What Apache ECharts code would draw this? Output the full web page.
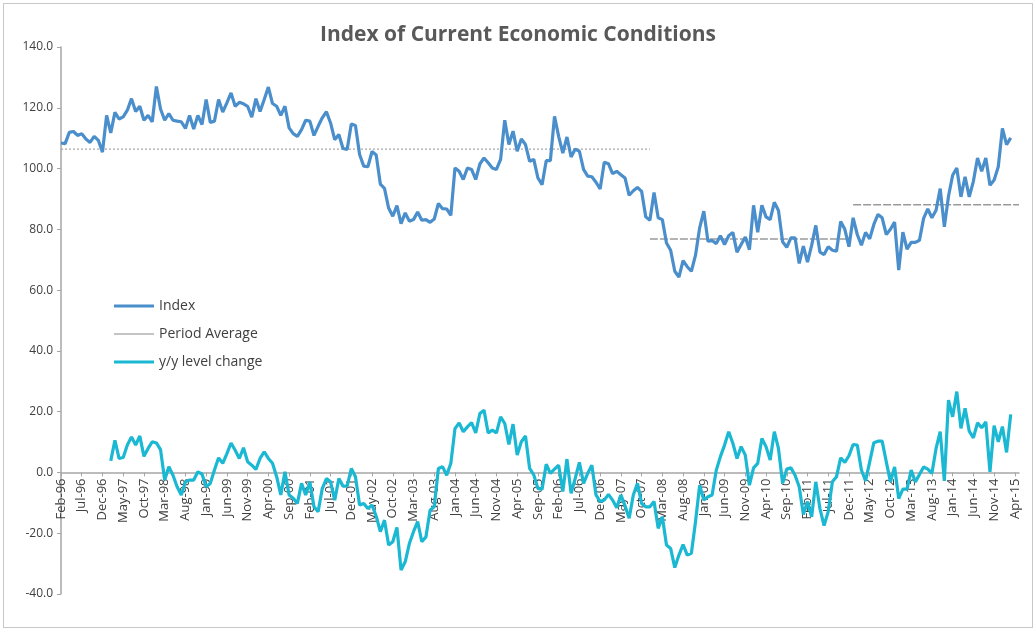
<!DOCTYPE html>
<html lang="en">
<head>
    <meta charset="UTF-8">
    <title>Index of Current Economic Conditions</title>
    <script src="https://cdn.jsdelivr.net/npm/echarts@6/dist/echarts.min.js"></script>
    <style>
        html,body{height:100%;width:100%;margin:0;padding:0;background:#fff;}
        #main{position:absolute;left:3px;top:3px;right:3px;bottom:3px;border:1px solid #c8c8c8;}
    </style>
</head>
<body>
    <div id="main"></div>
    <script>
        // monthly labels Feb-96 .. Apr-15
        var monNames = ['Jan','Feb','Mar','Apr','May','Jun','Jul','Aug','Sep','Oct','Nov','Dec'];
        var months = [];
        for (var k = 1; k <= 232; k++) {
            var yy = 1996 + Math.floor(k / 12), mm = k % 12;
            months.push(monNames[mm] + '-' + String(yy).slice(2));
        }

        var indexValues = [
            108.4,108.2,111.9,112.2,110.9,111.5,109.7,108.6,110.6,109.3,105.4,117.5,
            111.7,118.5,116.3,117.0,119.2,123.0,118.8,120.5,115.9,117.5,115.4,127.0,
            119.6,115.9,118.1,115.9,115.6,115.4,113.2,117.5,113.0,117.5,114.5,122.7,
            115.2,115.6,122.7,118.6,121.6,124.9,120.5,121.8,121.3,120.5,116.9,123.0,
            118.8,122.7,126.8,121.4,120.5,117.5,120.5,113.4,111.5,110.6,112.8,115.9,
            115.6,110.9,113.9,116.7,118.7,115.0,109.5,111.2,106.6,106.3,114.7,114.2,
            104.6,100.8,100.6,105.6,104.5,94.9,93.5,87.0,84.3,87.8,81.9,85.4,
            82.7,83.2,85.7,83.0,83.2,82.3,83.4,88.5,86.8,86.7,84.6,100.2,
            99.1,96.4,100.2,99.7,96.4,101.5,103.5,101.9,100.2,99.7,103.0,115.9,
            107.9,112.3,105.7,109.7,107.9,102.4,103.0,96.9,94.7,102.6,102.6,117.2,
            110.6,105.1,110.4,103.8,106.4,105.7,99.7,97.5,97.3,95.5,93.3,102.1,
            101.6,98.3,99.1,98.0,96.9,91.2,92.7,93.8,92.5,84.1,83.0,92.1,
            83.8,83.2,75.5,73.1,66.2,64.3,69.7,67.7,66.2,71.5,80.5,86.0,
            76.1,76.3,75.3,77.9,75.0,77.9,79.0,72.5,75.0,77.5,73.3,87.9,
            79.0,87.9,84.1,83.2,88.9,86.2,75.9,74.1,77.2,77.2,68.8,74.5,
            69.2,74.7,81.3,72.5,71.7,74.3,73.1,72.8,82.6,80.0,74.3,83.8,
            78.3,74.8,79.0,76.9,81.6,84.9,83.8,78.3,80.0,82.4,66.6,79.1,
            73.5,75.7,75.7,76.4,83.6,86.7,83.8,86.3,93.4,80.8,90.9,97.8,
            100.2,90.7,97.3,90.7,95.8,103.5,99.1,103.5,94.5,96.2,100.6,113.2,
            107.9,110.1
        ];

        var yoyValues = [
            null,null,null,null,null,null,null,null,null,null,null,null,
            3.8,10.6,4.6,4.9,9.0,11.7,9.0,12.0,5.3,7.9,10.1,9.7,
            7.5,-2.5,1.9,-0.9,-4.7,-7.4,-3.1,-2.5,-2.5,0.2,-0.5,-4.7,
            -3.6,0.8,4.8,3.0,6.2,9.7,7.3,4.6,8.1,3.5,2.4,1.0,
            4.6,6.8,4.6,3.0,-1.4,-7.4,0.2,-7.4,-8.5,-10.2,-3.6,-7.4,
            -3.1,-11.3,-12.9,-5.3,-2.0,-3.1,-9.1,-2.0,-4.5,-4.5,1.3,-1.4,
            -10.7,-10.2,-11.9,-10.7,-14.4,-19.5,-15.7,-23.9,-22.8,-18.1,-32.1,-29.4,
            -23.4,-19.5,-16.2,-22.8,-21.2,-12.4,-11.3,1.3,1.9,-0.9,3.0,14.4,
            16.3,13.4,15.0,16.4,13.0,19.4,20.5,13.0,13.9,13.0,18.3,16.1,
            9.2,15.9,5.7,10.1,12.0,1.3,-0.8,-5.3,-5.5,2.7,-0.3,1.1,
            2.4,-6.3,4.4,-6.9,-1.9,3.3,-3.6,-0.3,2.4,-7.4,-9.6,-9.1,
            -7.2,-9.1,-11.6,-7.4,-11.0,-15.1,-7.4,-3.6,-10.2,-11.3,-11.3,-9.6,
            -18.4,-14.6,-23.9,-25.0,-31.3,-27.2,-23.7,-27.2,-26.6,-16.2,-4.2,-9.1,
            -8.0,-7.4,0.7,5.2,9.0,13.4,9.6,4.6,8.5,5.7,-4.2,1.5,
            3.0,11.2,8.5,4.1,13.4,7.9,-3.6,1.1,1.5,-0.9,-4.7,-13.8,
            -9.6,-14.6,-3.1,-11.9,-17.5,-12.9,-3.1,-1.4,4.8,3.3,5.5,9.2,
            9.0,0.8,-2.8,3.5,9.8,10.3,10.3,3.5,-3.1,1.8,-8.6,-5.5,
            -5.5,0.8,-3.1,-0.7,1.8,1.1,-0.3,7.9,13.4,-2.8,23.8,18.3,
            26.6,14.5,21.1,13.6,11.4,16.3,14.7,16.6,0.2,15.4,10.1,15.1,
            6.6,19.1
        ];

        // period averages: [first month index, last month index, level]
        var periods = [[0, 142, 106.4], [142, 190, 76.8], [191, 231, 88.1]];

        function periodSeries(p) {
            var arr = [];
            for (var i = 0; i < months.length; i++) arr.push(i >= p[0] && i <= p[1] ? p[2] : null);
            return arr;
        }

        var myChart = echarts.init(document.getElementById('main'));
        var textFont = 'Open Sans';
        var lineIcon = 'path://M0,0 L40,0 L40,3 L0,3 Z';
        var series = [
            {name: 'Index', type: 'line', data: indexValues, symbol: 'none',
             lineStyle: {color: '#4a8ecb', width: 3.2}, itemStyle: {color: '#4a8ecb'}, z: 3},
            {name: 'Period Average', type: 'line', data: periodSeries(periods[0]), symbol: 'none',
             lineStyle: {color: '#a8a8a8', width: 1.2, type: [2, 2]}, itemStyle: {color: '#b0b0b0'}, z: 2},
            {name: 'Period Average', type: 'line', data: periodSeries(periods[1]), symbol: 'none',
             lineStyle: {color: '#9a9a9a', width: 1.5, type: [8, 2]}, itemStyle: {color: '#b0b0b0'}, z: 2},
            {name: 'Period Average', type: 'line', data: periodSeries(periods[2]), symbol: 'none',
             lineStyle: {color: '#9a9a9a', width: 1.5, type: [8, 2]}, itemStyle: {color: '#b0b0b0'}, z: 2},
            {name: 'y/y level change', type: 'line', data: yoyValues, symbol: 'none',
             lineStyle: {color: '#1ab8d2', width: 3.2}, itemStyle: {color: '#1ab8d2'}, z: 3}
        ];

        var option = {
            animation: false,
            title: {
                text: 'Index of Current Economic Conditions',
                left: 'center', top: 16,
                textStyle: {fontFamily: textFont, fontSize: 21, fontWeight: 'bold', color: '#595959'}
            },
            legend: {
                data: [
                    {name: 'Index', icon: lineIcon},
                    {name: 'Period Average', icon: 'path://M0,0 L40,0 L40,1.5 L0,1.5 Z'},
                    {name: 'y/y level change', icon: lineIcon}
                ],
                orient: 'vertical', left: 105, top: 290, itemGap: 14,
                itemWidth: 40, itemHeight: 3,
                textStyle: {fontFamily: textFont, fontSize: 14, color: '#404040'}
            },
            grid: {left: 57, right: 13, top: 43, bottom: 33, outerBoundsMode: 'none'},
            xAxis: {
                type: 'category', data: months, boundaryGap: false,
                axisLine: {onZero: true, lineStyle: {color: '#a6a6a6', width: 1.5}},
                axisTick: {show: true, interval: 4, length: 4, lineStyle: {color: '#a6a6a6'}},
                axisLabel: {interval: 4, rotate: 90, fontFamily: textFont, fontSize: 13, color: '#404040', margin: 6},
                splitLine: {show: false}
            },
            yAxis: {
                type: 'value', min: -40, max: 140, interval: 20,
                axisLine: {show: true, lineStyle: {color: '#a6a6a6', width: 1.5}},
                axisTick: {show: true, length: 4, lineStyle: {color: '#a6a6a6'}},
                axisLabel: {formatter: function (v) { return v.toFixed(1); },
                    fontFamily: textFont, fontSize: 12, color: '#404040'},
                splitLine: {show: false}
            },
            series: series
        };
        myChart.setOption(option);

        // put the month labels on the zero line, as in the original
        var zeroY = myChart.convertToPixel({yAxisIndex: 0}, 0);
        var bottomY = myChart.convertToPixel({yAxisIndex: 0}, -40);
        myChart.setOption({xAxis: {axisLine: {onZero: false}, offset: zeroY - bottomY}});
    </script>
</body>
</html>
